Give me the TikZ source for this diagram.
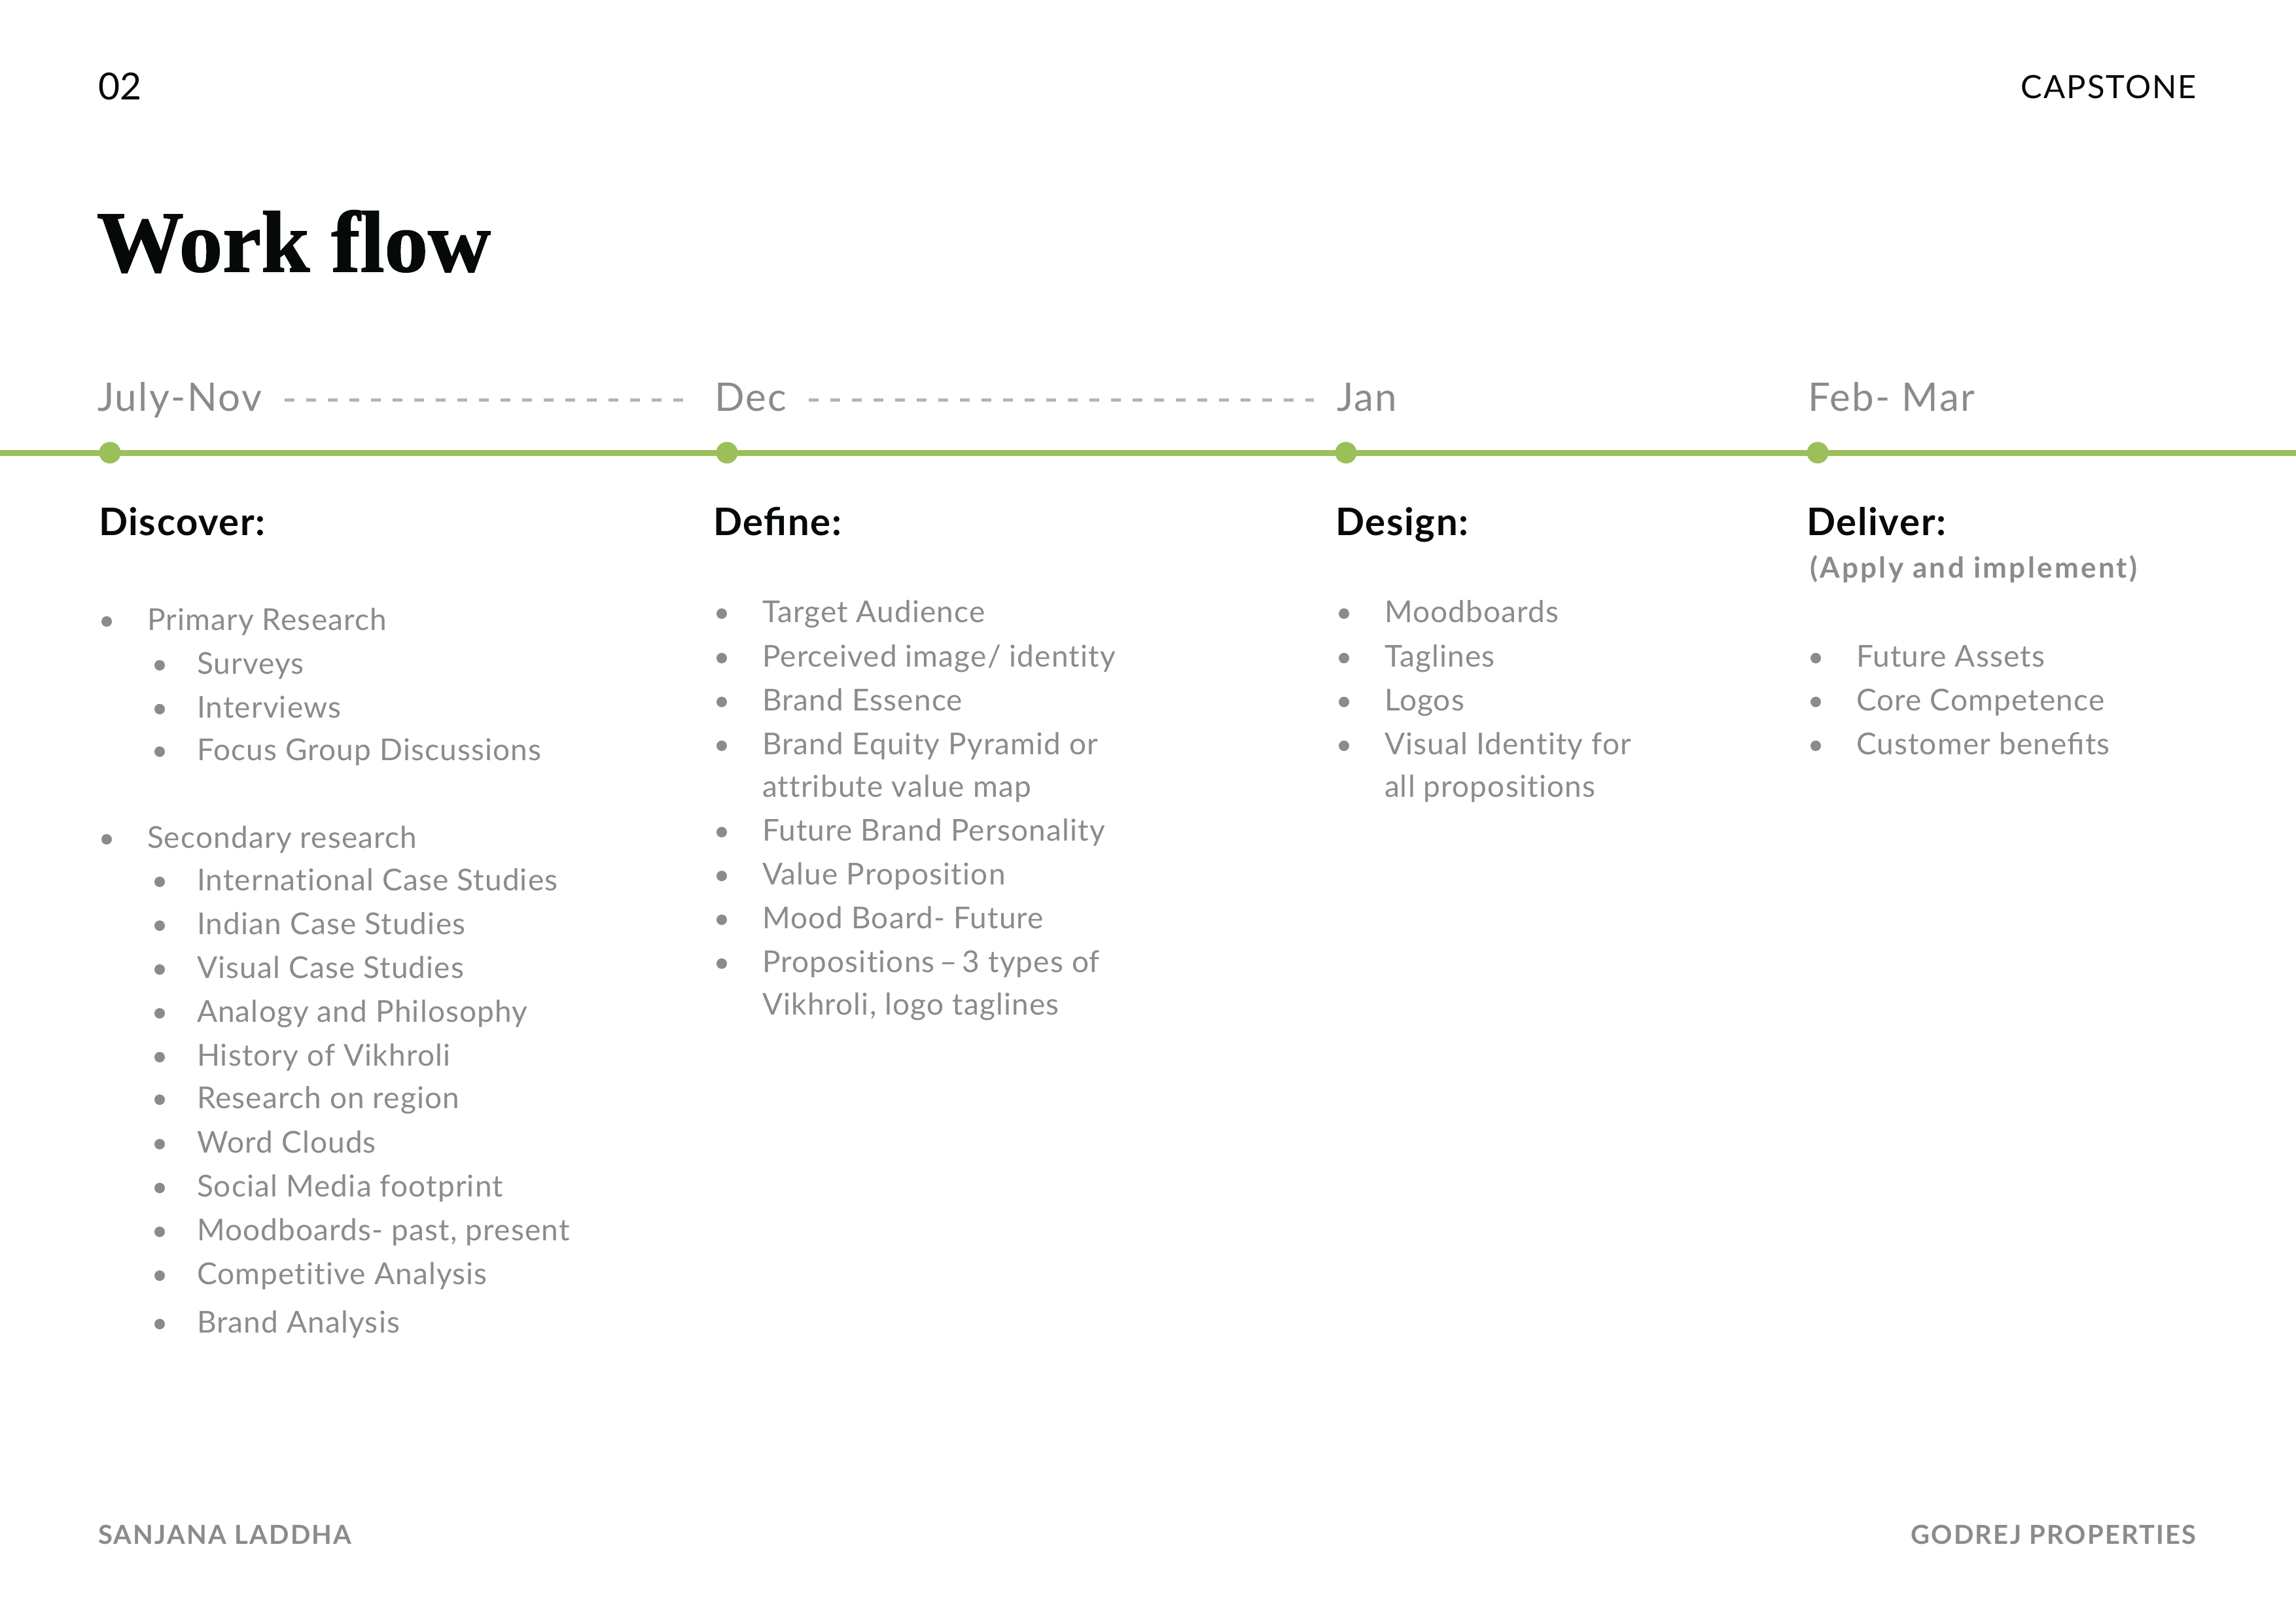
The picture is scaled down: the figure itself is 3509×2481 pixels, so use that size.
\documentclass[tikz,border=0pt]{standalone}
\usepackage{fontspec}
\setmainfont{Lato}[Ligatures=NoCommon]
\newfontfamily\titlefont{Liberation Serif}[BoldFeatures={FakeBold=1.2}]
\definecolor{txtgray}{HTML}{8A8B8E}
\definecolor{dashgray}{HTML}{B4B5B7}
\definecolor{linegreen}{HTML}{9BBF59}
\definecolor{inkblack}{HTML}{060909}
\begin{document}
\begin{tikzpicture}[x=1pt,y=-1pt,
  base/.style={anchor=base west, inner sep=0pt, outer sep=0pt},
  body/.style={base, text=txtgray, font=\fontsize{46}{54}\selectfont\addfontfeatures{LetterSpace=2.5}},
  head/.style={base, text=inkblack, font=\bfseries\fontsize{58}{66}\selectfont\addfontfeatures{LetterSpace=3}},
  month/.style={base, text=txtgray, font=\fontsize{60}{66}\selectfont\addfontfeatures{LetterSpace=4}},
  foot/.style={inner sep=0pt, text=txtgray, font=\bfseries\fontsize{40}{48}\selectfont\addfontfeatures{LetterSpace=5.5}},
  bul/.style={fill=txtgray},
  tick/.style={fill=linegreen},
  dashline/.style={draw=dashgray, line width=5pt, dash pattern=on 15pt off 18pt}]
\useasboundingbox[fill=white] (0,0) rectangle (3509,2481);

% header
\node[base, text=inkblack, font=\fontsize{57}{66}\selectfont] (num) at (150,152) {02};
\node[inner sep=0pt, anchor=base east, text=inkblack, font=\fontsize{49}{58}\selectfont\addfontfeatures{LetterSpace=4}] (cap) at (3357,150) {CAPSTONE};
\node[base, text=inkblack, font=\titlefont\bfseries\fontsize{133}{150}\selectfont] (title) at (148,415) {Work flow};

% months
\node[month] (m1) at (149,628) {July-Nov};
\node[month] (m2) at (1092,628) {Dec};
\node[month] (m3) at (2043,628) {Jan};
\node[month] (m4) at (2763,628) {Feb- Mar};
\coordinate (d1s) at (435,611);
\coordinate (d1e) at (1051,611);
\coordinate (d2s) at (1236,611);
\coordinate (d2e) at (2008,611);
\draw[dashline] (d1s) -- (d1e);
\draw[dashline] (d2s) -- (d2e);

% timeline
\coordinate (tl0) at (0,692);
\coordinate (tl1) at (3509,692);
\draw[linegreen, line width=9pt] (tl0) -- (tl1);
\fill[tick] (168,692) circle (16.5);
\fill[tick] (1111,692) circle (16.5);
\fill[tick] (2057,692) circle (16.5);
\fill[tick] (2778,692) circle (16.5);

% headings
\node[head] (h1) at (151,818) {Discover:};
\node[head] (h2) at (1090,818) {Deﬁne:};
\node[head] (h3) at (2041,818) {Design:};
\node[head] (h4) at (2761,818) {Deliver:};
\node[base, text=txtgray, font=\bfseries\fontsize{44}{50}\selectfont\addfontfeatures{LetterSpace=7.5}] (h4b) at (2766,883) {(Apply and implement)};

% Discover column
\foreach \c/\t [count=\i] in {947/{Primary Research},1280/{Secondary research}}{
  \fill[bul] (163,\c+3) circle (8);
  \node[body] (a\i) at (225,\c+16) {\t};
}
\foreach \c/\t [count=\i] in {1014/{Surveys},1081/{Interviews},1146/{Focus Group Discussions},
  1345/{International Case Studies},1412/{Indian Case Studies},1479/{Visual Case Studies},
  1546/{Analogy and Philosophy},1613/{History of Vikhroli},1678/{Research on region},
  1746/{Word Clouds},1813/{Social Media footprint},1880/{Moodboards- past, present},
  1947/{Competitive Analysis},2021/{Brand Analysis}}{
  \fill[bul] (244,\c+3) circle (8);
  \node[body] (s\i) at (301,\c+16) {\t};
}

% Define column
\foreach \c/\t [count=\i] in {935/{Target Audience},1003/{Perceived image/ identity},1070/{Brand Essence},
  1137/{Brand Equity Pyramid or},1269/{Future Brand Personality},1336/{Value Proposition},
  1403/{Mood Board- Future},1470/{Propositions\,–\,3 types of}}{
  \fill[bul] (1103,\c+3) circle (8);
  \node[body] (b\i) at (1165,\c+16) {\t};
}
\node[body] (b9) at (1165,1202+16) {attribute value map};
\node[body] (b10) at (1165,1535+16) {Vikhroli, logo taglines};

% Design column
\foreach \c/\t [count=\i] in {935/{Moodboards},1003/{Taglines},1070/{Logos},1137/{Visual Identity for}}{
  \fill[bul] (2054,\c+3) circle (8);
  \node[body] (c\i) at (2116,\c+16) {\t};
}
\node[body] (c5) at (2116,1202+16) {all propositions};

% Deliver column
\foreach \c/\t [count=\i] in {1003/{Future Assets},1070/{Core Competence},1137/{Customer beneﬁts}}{
  \fill[bul] (2775,\c+3) circle (8);
  \node[body] (e\i) at (2837,\c+16) {\t};
}

% footer
\node[foot, anchor=base west] (f1) at (150,2360) {SANJANA LADDHA};
\node[foot, anchor=base east] (f2) at (3357,2360) {GODREJ PROPERTIES};
\end{tikzpicture}
\end{document}
